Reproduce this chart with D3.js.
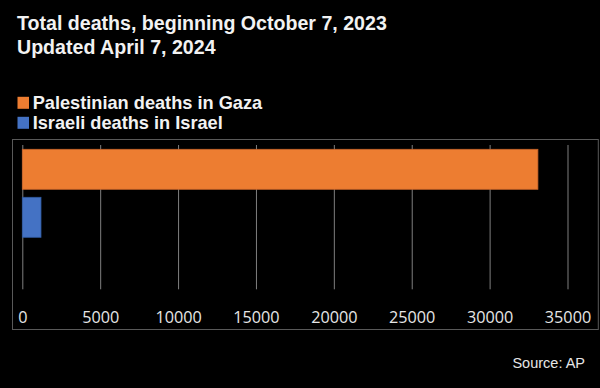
<!DOCTYPE html>
<html><head><meta charset="utf-8">
<script src="https://cdn.jsdelivr.net/npm/d3@7"></script>
<style>
html,body{margin:0;padding:0;background:#000;}
svg{display:block;}
</style></head>
<body>
<script>
const titleLines = ["Total deaths, beginning October 7, 2023", "Updated April 7, 2024"];
const seriesNames = ["Palestinian deaths in Gaza", "Israeli deaths in Israel"];
const seriesValues = [33100, 1200];
const seriesColors = ["#ED7D31", "#4472C4"];
const seriesStrokes = ["#C8642A", "#30599F"];
const tickValues = [0, 5000, 10000, 15000, 20000, 25000, 30000, 35000];
const sourceText = "Source: AP";

const W = 600, H = 388;
const svg = d3.select("body").append("svg").attr("width", W).attr("height", H)
  .style("background", "#000");

// Title
svg.append("g").selectAll("text").data(titleLines).join("text")
  .attr("x", 17).attr("y", (d, i) => 29.5 + i * 24)
  .attr("font-family", "Liberation Sans, Arial, sans-serif")
  .attr("font-weight", "bold").attr("font-size", 19.6)
  .attr("fill", "#f2f2f2").text(d => d);

// Legend
const leg = svg.append("g").selectAll("g").data(seriesNames).join("g")
  .attr("transform", (d, i) => `translate(17.5,${96.8 + i * 20})`);
leg.append("rect").attr("width", 11.5).attr("height", 12)
  .attr("fill", (d, i) => seriesColors[i]);
leg.append("text").attr("x", 15.2).attr("y", 11.9)
  .attr("font-family", "Liberation Sans, Arial, sans-serif")
  .attr("font-weight", "bold").attr("font-size", 18.2)
  .attr("fill", "#f2f2f2").text(d => d);

// Frame
svg.append("rect").attr("x", 12.5).attr("y", 139.5).attr("width", 585.8).attr("height", 190)
  .attr("fill", "none").attr("stroke", "#595959").attr("stroke-width", 1);

// Scales
const x = d3.scaleLinear().domain([0, 35000]).range([22.3, 567.5]);
const y = d3.scaleBand().domain(seriesNames).range([149.3, 237.3]).paddingInner(1/6).paddingOuter(0);

// Gridlines via axis
const grid = svg.append("g").attr("transform", "translate(0,289.3)")
  .call(d3.axisTop(x).tickValues(tickValues).tickSize(144.3).tickFormat(""));
grid.select(".domain").remove();
grid.selectAll("line").attr("stroke", "#7f7f7f").attr("stroke-width", 1);

// Bars
svg.append("g").selectAll("rect").data(seriesValues).join("rect")
  .attr("x", x(0)).attr("y", (d, i) => y(seriesNames[i]))
  .attr("width", d => x(d) - x(0)).attr("height", y.bandwidth())
  .attr("fill", (d, i) => seriesColors[i])
  .attr("stroke", (d, i) => seriesStrokes[i]).attr("stroke-width", 0.8);

// Tick labels via axis
const ax = svg.append("g").attr("transform", "translate(0,305)")
  .call(d3.axisBottom(x).tickValues(tickValues).tickSize(0).tickFormat(d => String(d)));
ax.select(".domain").remove();
ax.selectAll("text").attr("font-family", "Open Sans, sans-serif").attr("font-size", 16.2)
  .attr("fill", "#e6e6e6").attr("dy", "0.95em");

// Source
svg.append("text").attr("x", 585).attr("y", 368.3).attr("text-anchor", "end")
  .attr("font-family", "Liberation Sans, Arial, sans-serif").attr("font-size", 14.5)
  .attr("fill", "#e6e6e6").text(sourceText);
</script>
</body></html>
